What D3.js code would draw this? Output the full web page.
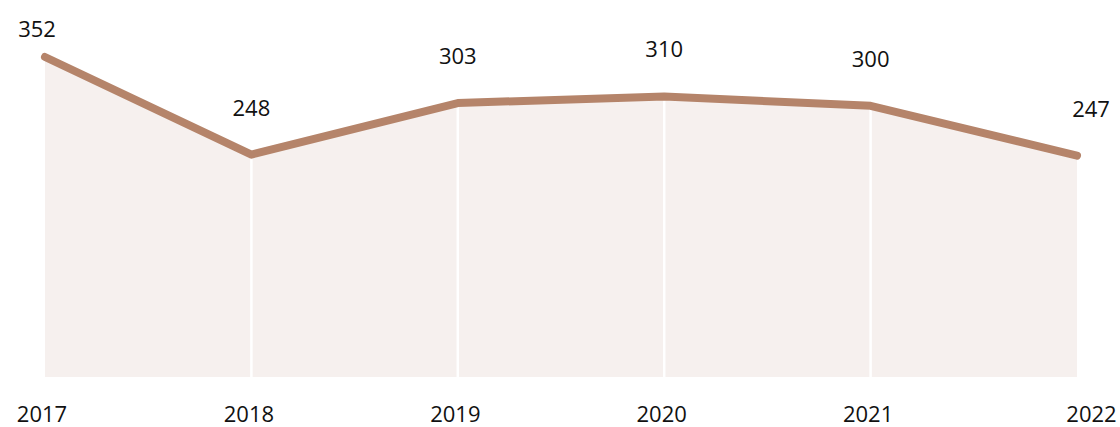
<!DOCTYPE html>
<html>
<head>
<meta charset="utf-8">
<script src="https://cdn.jsdelivr.net/npm/d3@7"></script>
<style>
  html, body { margin: 0; padding: 0; background: #ffffff; }
  svg { display: block; font-family: "Open Sans", "Noto Sans", sans-serif; }
</style>
</head>
<body>
<svg id="chart" width="1120" height="427"></svg>
<script>
const years = ["2017", "2018", "2019", "2020", "2021", "2022"];
const values = [352, 248, 303, 310, 300, 247];

(function () {
const mLeft = 45, mRight = 1077, mTop = 57, yZero = 387.5, plotBottom = 377;

const svg = d3.select("#chart");
const data = years.map((y, i) => ({ year: y, value: values[i] }));

const x = d3.scalePoint().domain(years).range([mLeft, mRight]);
const y = d3.scaleLinear().domain([0, d3.max(values)]).range([yZero, mTop]);

// area
const area = d3.area()
  .x(d => x(d.year))
  .y0(plotBottom)
  .y1(d => y(d.value));
svg.append("path")
  .datum(data)
  .attr("d", area)
  .attr("fill", "#f6f0ee");

// white vertical gridlines (inner years)
svg.append("g")
  .selectAll("line")
  .data(years.slice(1, -1))
  .join("line")
  .attr("x1", d => x(d)).attr("x2", d => x(d))
  .attr("y1", 0).attr("y2", plotBottom)
  .attr("stroke", "#ffffff")
  .attr("stroke-width", 2.5);

// line
const line = d3.line()
  .x(d => x(d.year))
  .y(d => y(d.value));
svg.append("path")
  .datum(data)
  .attr("d", line)
  .attr("fill", "none")
  .attr("stroke", "#b5846a")
  .attr("stroke-width", 8)
  .attr("stroke-linecap", "round")
  .attr("stroke-linejoin", "round");

const edgeShift = (i) => i === 0 ? -8 : (i === years.length - 1 ? 14 : 0);

// value labels
svg.append("g")
  .selectAll("text")
  .data(data)
  .join("text")
  .attr("x", (d, i) => x(d.year) + edgeShift(i))
  .attr("y", d => Math.max(37, y(d.value) - 39))
  .attr("text-anchor", "middle")
  .attr("font-size", 22)
  .attr("fill", "#111111")
  .text(d => d.value);

// x axis labels
const xAxis = d3.axisBottom(x).tickSize(0).tickPadding(0);
const gx = svg.append("g")
  .attr("transform", "translate(0, 422)")
  .call(xAxis);
gx.select(".domain").remove();
gx.selectAll("text")
  .attr("dy", 0)
  .attr("font-size", 22)
  .attr("font-family", "\"Open Sans\", \"Noto Sans\", sans-serif")
  .attr("fill", "#111111")
  .attr("transform", (d, i) => `translate(${i === 0 ? -3.5 : (i === years.length - 1 ? 14 : -3)},0)`);
})();
</script>
</body>
</html>
